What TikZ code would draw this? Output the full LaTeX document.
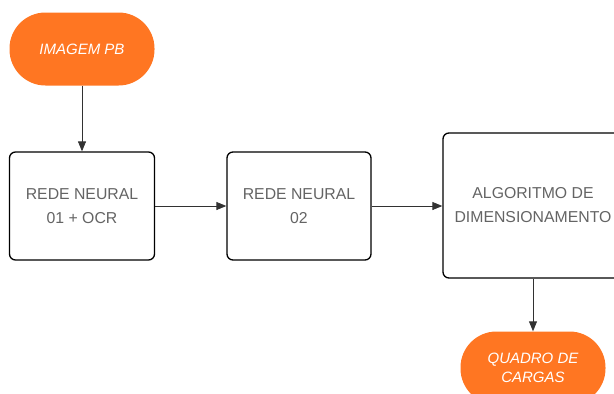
\documentclass[tikz,border=0pt]{standalone}
\usepackage{fontspec}
\setmainfont{Liberation Sans}
\usetikzlibrary{arrows.meta}
\definecolor{orangepill}{RGB}{255,118,34}
\definecolor{boxtext}{RGB}{100,100,100}
\definecolor{linegray}{RGB}{50,50,50}
\begin{document}
\begin{tikzpicture}[x=1pt,y=-1pt,
  pill/.style={fill=orangepill, text=white, font=\fontsize{15}{19.5}\selectfont\itshape,
    minimum width=145pt, minimum height=73pt, rounded corners=36pt, align=center, inner sep=0pt},
  procbox/.style={draw=black, line width=1.3pt, rounded corners=6pt, fill=white,
    text=boxtext, font=\fontsize{15.8}{24}\selectfont, align=center, inner sep=0pt},
  flow/.style={draw=linegray, line width=0.9pt, -{Triangle[length=10pt,width=8pt]}}]
\useasboundingbox (0,0) rectangle (614,394);
\clip (0,0) rectangle (614,394);

\node[pill] (1) at (82,49) {IMAGEM PB};
\node[procbox, minimum width=145pt, minimum height=108pt] (2) at (82,206) {REDE NEURAL\\01 + OCR};
\node[procbox, minimum width=144pt, minimum height=108pt] (3) at (299,206) {REDE NEURAL\\02};
\node[procbox, minimum width=180pt, minimum height=145pt] (4) at (533,205.5) {ALGORITMO DE\\DIMENSIONAMENTO};
\node[pill] (5) at (533,368) {QUADRO DE\\CARGAS};

\path[flow] (1) -- (2);
\path[flow] (2) -- (3);
\path[flow] (3.east) -- (3.east -| 4.west);
\path[flow] (4) -- (5);
\end{tikzpicture}
\end{document}
